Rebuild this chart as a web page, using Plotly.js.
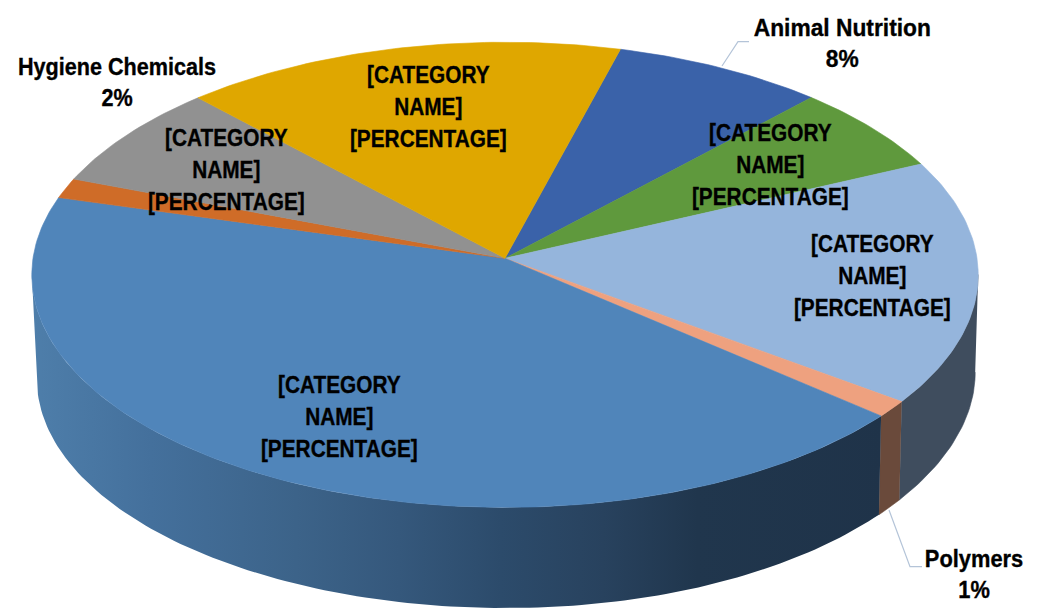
<!DOCTYPE html>
<html>
<head>
<meta charset="utf-8">
<script src="https://cdn.plot.ly/plotly-3.0.1.min.js"></script>
<style>html,body{margin:0;padding:0;background:#fff}#chart{width:1044px;height:612px}</style>
</head>
<body>
<div id="chart"></div>
<script>
// Data (clockwise, beginning at the Animal Nutrition slice)
const sliceKeys   = ['animal','green','lightblue','polymers','bigblue','hygiene','grey','gold'];
const sliceValues = [7.75, 6.15, 17.0, 1.15, 43.05, 1.4, 7.3, 16.2];
const sliceColors = ['#3A62A9','#5F993D','#95B5DC','#EEA17F','#5085BA','#CF6C28','#919191','#DFA700'];
const sideColors  = {lightblue:'#3F4D5E', polymers:'#6A4A3B'};
const bigSideStops = [[0,'#4E7EAA'],[0.14,'#44709C'],[0.31,'#3C6389'],[0.43,'#35587C'],[0.55,'#2C4B6B'],[0.67,'#28425E'],[0.78,'#20364D'],[1,'#1F3349']];
const placeholder = '[CATEGORY<br>NAME]<br>[PERCENTAGE]';
const labelTexts = [placeholder, placeholder, placeholder, placeholder, placeholder,
                    'Hygiene Chemicals<br>2%', 'Animal Nutrition<br>8%', 'Polymers<br>1%'];
const labelX = [339, 226, 428, 770, 872, 117, 842, 974];
const labelY = [416, 169, 106, 164, 275, 82, 43, 574];
const labelSize = [24.5, 24.5, 24.5, 24.5, 24.5, 24, 24, 24];
const labelStretch = [0.85, 0.85, 0.85, 0.85, 0.85, 0.9, 0.95, 0.91];
const leaderAnimalX = [722, 738, 749], leaderAnimalY = [66, 41.6, 41.6];
const leaderPolymersX = [889, 910, 922], leaderPolymersY = [510, 566.7, 566.7];

// Perspective pie geometry
const START = 15.15, K = 0.071;
const TOP = {cx:505, cy:258.3, R:472, S:231.4};
const BOT = {cx:506, cy:362.6, R:468, S:228};
function project(g, deg, lower){
  const a = deg*Math.PI/180, u = Math.sin(a), v = Math.cos(a), w = 1+K*v;
  const x = g.cx + g.R*u/w;
  let y = g.cy - g.S*v/w;
  if(lower && x>g.cx) y -= 4*Math.pow((x-g.cx)/400,3);
  return [x,y];
}
function arc(g, a, b, lower){
  const pts=[], n=Math.max(2,Math.ceil(Math.abs(b-a)));
  for(let i=0;i<=n;i++) pts.push(project(g, a+(b-a)*i/n, lower));
  return pts;
}
const total = sliceValues.reduce((s,v)=>s+v,0);
let acc = START;
const ranges = sliceValues.map(v=>{const r=[acc,acc+v/total*360]; acc=r[1]; return r;});

const traces=[];
function poly(pts,color,extra){
  return Object.assign({type:'scatter',mode:'lines',x:pts.map(p=>p[0]),y:pts.map(p=>p[1]),
    fill:'toself',fillcolor:color,line:{color:color,width:0.6},hoverinfo:'skip',showlegend:false},extra||{});
}
function side(a,b){
  return arc(TOP,a,b,false).concat(arc(BOT,b,a,true));
}
// Visible side wall only
const VIS0=94, VIS1=266;
sliceKeys.forEach((k,i)=>{
  const a=Math.max(ranges[i][0],VIS0), b=Math.min(ranges[i][1],VIS1);
  if(b<=a) return;
  if(k==='bigblue'){
    const t=poly(side(a,b),'#35587C',{
      fillgradient:{type:'horizontal',colorscale:bigSideStops,start:32,stop:885},
      line:{color:'rgba(0,0,0,0)',width:0}});
    delete t.fillcolor;
    traces.push(t);
  } else traces.push(poly(side(a,b),sideColors[k]));
});
// Top face
sliceKeys.forEach((k,i)=>{
  const pts=[[TOP.cx,TOP.cy]].concat(arc(TOP,ranges[i][0],ranges[i][1],false));
  pts.push([TOP.cx,TOP.cy]);
  traces.push(poly(pts,sliceColors[i]));
});
// Leader lines
[[leaderAnimalX,leaderAnimalY],[leaderPolymersX,leaderPolymersY]].forEach(l=>{
  traces.push({type:'scatter',mode:'lines',x:l[0],y:l[1],line:{color:'#B4C4D8',width:1.2},hoverinfo:'skip',showlegend:false});
});

const annotations = labelTexts.map((t,i)=>({
  x:labelX[i],y:labelY[i],xref:'x',yref:'y',text:'<b>'+t+'</b>',showarrow:false,align:'center',
  xanchor:'center',yanchor:'middle',
  font:{family:'"Liberation Sans",Arial,sans-serif',size:labelSize[i],color:'#000'}
}));

const layout={
  width:1044,height:612,margin:{l:0,r:0,t:0,b:0},paper_bgcolor:'#fff',plot_bgcolor:'#fff',
  showlegend:false,hovermode:false,
  xaxis:{range:[0,1044],visible:false,fixedrange:true},
  yaxis:{range:[612,0],visible:false,fixedrange:true},
  annotations:annotations
};
Plotly.newPlot('chart',traces,layout,{displayModeBar:false,staticPlot:true}).then(gd=>{
  // The reference font is a condensed bold: narrow each real text label about its own centre
  gd.querySelectorAll('.annotation-text').forEach((el,i)=>{
    const b=el.getBBox(), c=b.x+b.width/2, s=labelStretch[i];
    el.setAttribute('transform','translate('+c+',0) scale('+s+',1) translate('+(-c)+',0)');
    el.style.stroke='#000';
    el.style.strokeWidth='0.35px';
  });
});
</script>
</body>
</html>
